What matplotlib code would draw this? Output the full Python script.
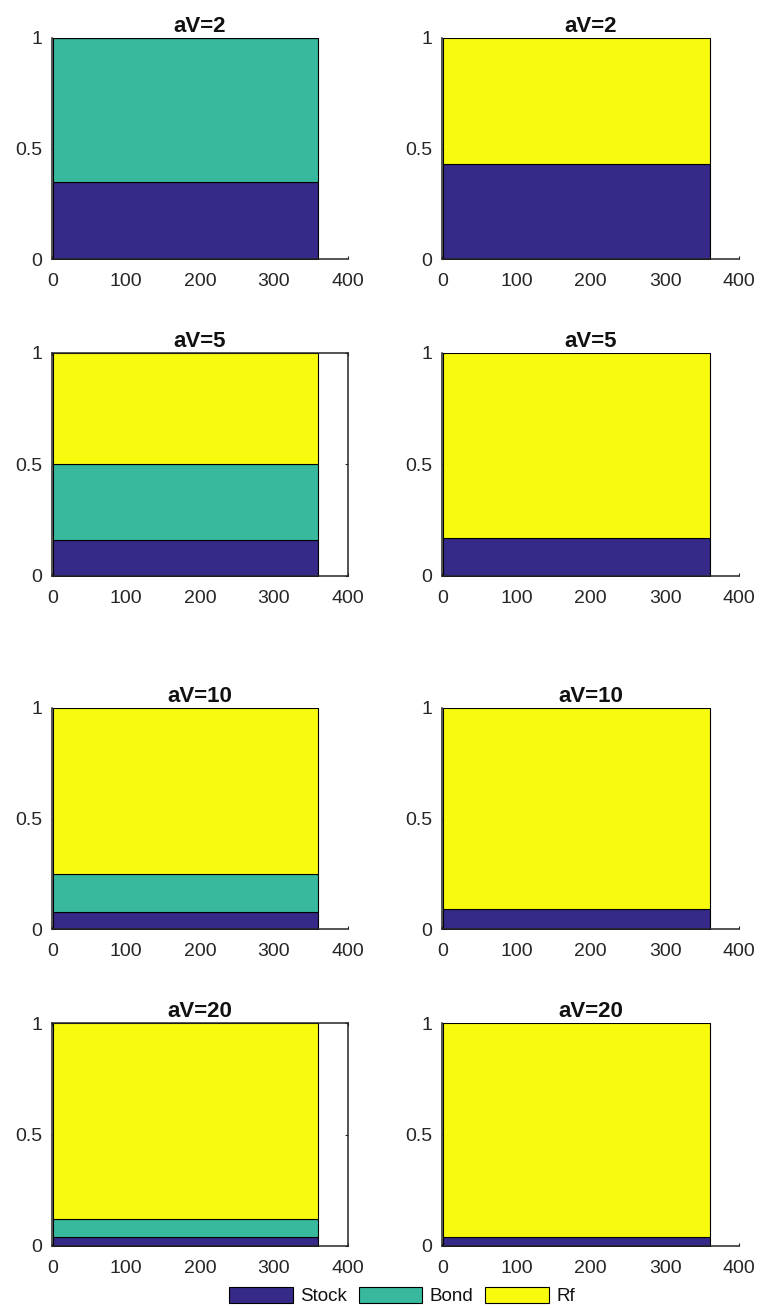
import numpy as np
import matplotlib
matplotlib.use("Agg")
import matplotlib.pyplot as plt
from matplotlib.patches import Patch

plt.rcParams['font.family'] = ['Liberation Sans', 'DejaVu Sans']

######
# Portfolio weights by risk aversion (constant over the horizon)
######
months = np.arange(1, 361)
titles = ['aV=2', 'aV=5', 'aV=10', 'aV=20']

# left column: stock / bond / risk-free
stock_3 = [0.350, 0.160, 0.078, 0.042]
bond_3 = [0.650, 0.340, 0.172, 0.079]
rf_3 = [0.000, 0.500, 0.750, 0.879]

# right column: stock / risk-free only
stock_2 = [0.430, 0.170, 0.090, 0.042]
rf_2 = [0.570, 0.830, 0.910, 0.958]

left_box = [False, True, False, True]
labels = ['Stock', 'Bond', 'Rf']

c_stock = '#352a87'
c_bond = '#38b99e'
c_rf = '#f9fb0e'
axcol = '#262626'

fig = plt.figure(figsize=(7.6, 13.09), dpi=100)
W, H = 760.0, 1309.0

rows_px = [(38, 259), (353, 576), (708, 929), (1023, 1246)]
cols_px = [(52.3, 347.7), (442.3, 739.3)]


def style_axes(ax, title, box):
    ax.set_xlim(0, 400)
    ax.set_ylim(0, 1)
    ax.set_xticks([0, 100, 200, 300, 400])
    ax.set_yticks([0, 0.5, 1])
    ax.set_yticklabels(['0', '0.5', '1'])
    ax.set_axisbelow(True)
    for s in ax.spines.values():
        s.set_color(axcol)
        s.set_linewidth(1.1)
    ax.spines['top'].set_visible(box)
    ax.spines['right'].set_visible(box)
    ax.tick_params(direction='in', length=2.5, width=0.8, color=axcol,
                   labelcolor=axcol, labelsize=14, top=box, right=box)
    ax.tick_params(axis='x', pad=10)
    ax.tick_params(axis='y', pad=7)
    ax.set_title(title, fontsize=16, fontweight='bold', pad=4, color='#111111')


for i, title in enumerate(titles):
    top, bot = rows_px[i]
    for j, (x0, x1) in enumerate(cols_px):
        ax = fig.add_axes([x0 / W, 1 - bot / H, (x1 - x0) / W, (bot - top) / H])
        if j == 0:
            ys = [np.full(len(months), stock_3[i]),
                  np.full(len(months), bond_3[i]),
                  np.full(len(months), rf_3[i])]
            cols = [c_stock, c_bond, c_rf]
            box = left_box[i]
        else:
            ys = [np.full(len(months), stock_2[i]),
                  np.full(len(months), rf_2[i])]
            cols = [c_stock, c_rf]
            box = False
        ax.stackplot(months, *ys, colors=cols, edgecolor='k', linewidth=0.8)
        style_axes(ax, title, box)

handles = [Patch(facecolor=c, edgecolor='k', linewidth=0.8) for c in [c_stock, c_bond, c_rf]]
fig.legend(handles, labels, loc='center', bbox_to_anchor=(402 / W, 13 / H),
           ncol=3, frameon=False, fontsize=13.5, handlelength=3.4,
           handleheight=1.0, handletextpad=0.4, columnspacing=0.6,
           borderpad=0, labelcolor='#111111')

fig.savefig('out.png', dpi=100)
